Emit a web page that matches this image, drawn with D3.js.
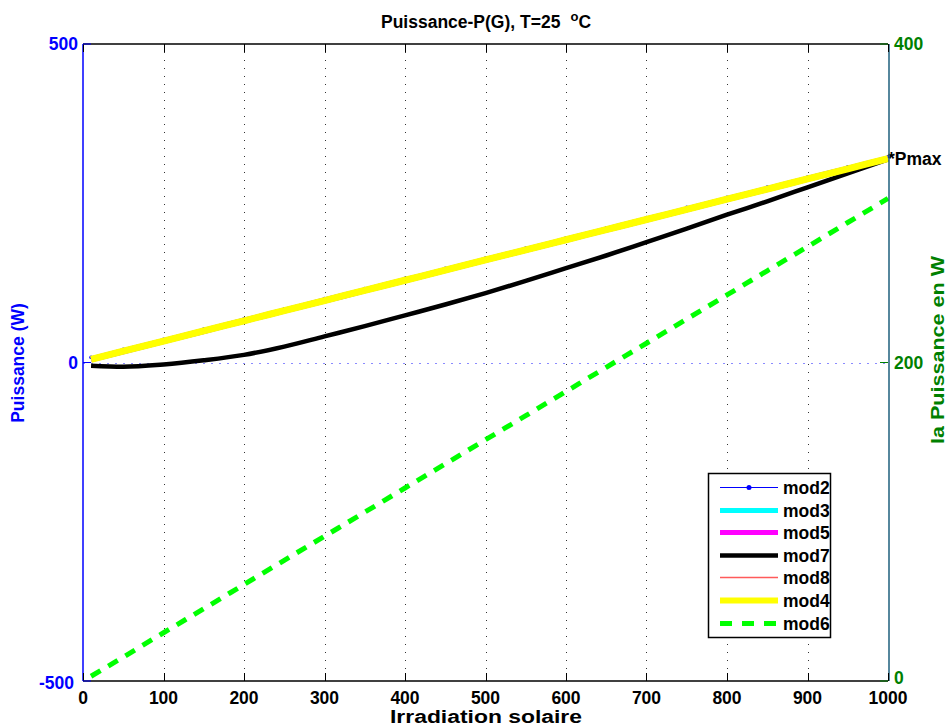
<!DOCTYPE html>
<html><head><meta charset="utf-8">
<script src="https://cdn.jsdelivr.net/npm/d3@7"></script>
<style>
html,body{margin:0;padding:0;background:#fff;}
svg text{font-family:"Liberation Sans",Arial,sans-serif;font-weight:bold;}
</style></head>
<body>
<svg id="c" width="949" height="727"></svg>
<script>
// ---- data ----
const irradiation = [10,50,100,150,200,250,300,350,400,450,500,550,600,650,700,750,800,850,900,950,1000];
const mod2 = [8,20.7,36.6,52.5,68.5,84.4,100.3,116.2,132.1,148,164,179.8,195.7,211.6,227.5,243.5,259.4,275.3,291.2,307.1,323];
const mod3 = [5,17.7,33.6,49.5,65.5,81.4,97.3,113.2,129.1,145,161,176.8,192.7,208.6,224.5,240.5,256.4,272.3,288.2,304.1,320];
const mod5 = [5,17.7,33.6,49.5,65.5,81.4,97.3,113.2,129.1,145,161,176.8,192.7,208.6,224.5,240.5,256.4,272.3,288.2,304.1,320];
const mod7 = [-5,-6.5,-3,3.5,12,25,41,57,74,91,109,128,148,168,189,210,232,253,275,297,319];
const mod8 = [5,17.7,33.6,49.5,65.5,81.4,97.3,113.2,129.1,145,161,176.8,192.7,208.6,224.5,240.5,256.4,272.3,288.2,304.1,320];
const mod4 = [5,17.7,33.6,49.5,65.5,81.4,97.3,113.2,129.1,145,161,176.8,192.7,208.6,224.5,240.5,256.4,272.3,288.2,304.1,320];
const mod6 = [3,15,30.3,45.4,60.6,75.8,90.9,106,121.2,136.3,151.5,166.6,181.8,197,212.1,227.3,242.4,257.6,272.7,287.9,303];
const pmax = {g:1000, p:321, label:"*Pmax"};
const xTicks = [0,100,200,300,400,500,600,700,800,900,1000];
const yLeftTicks = [-500,0,500];
const yRightTicks = [0,200,400];
const legendNames = ["mod2","mod3","mod5","mod7","mod8","mod4","mod6"];
const title = "Puissance-P(G), T=25";
const xLabel = "Irradiation solaire";
const yLeftLabel = "Puissance (W)";
const yRightLabel = "la Puissance en W";

// ---- layout ----
const L=83, R=888, T=44, B=681;
const svg = d3.select("#c");
const x = d3.scaleLinear().domain([0,1000]).range([L,R]);
const yL = d3.scaleLinear().domain([-500,500]).range([B,T]);
const yR = d3.scaleLinear().domain([0,400]).range([B,T]);

// grid
const grid = svg.append("g");
xTicks.slice(1,-1).forEach(t=>{
  grid.append("line").attr("x1",Math.round(x(t))+0.5).attr("x2",Math.round(x(t))+0.5).attr("y1",T).attr("y2",B)
    .attr("stroke","#333").attr("stroke-width",1).attr("stroke-dasharray","1,7");
});
grid.append("line").attr("x1",L).attr("x2",R).attr("y1",Math.round(yL(0))+0.5).attr("y2",Math.round(yL(0))+0.5)
  .attr("stroke","#8a8aff").attr("stroke-width",1.2).attr("stroke-dasharray","2,6");

// series
const series = [
  {name:"mod2", vals:mod2, color:"#0000ff", w:1, marker:true, axis:yL},
  {name:"mod3", vals:mod3, color:"#00ffff", w:6, axis:yL},
  {name:"mod5", vals:mod5, color:"#ff00ff", w:6, axis:yL},
  {name:"mod7", vals:mod7, color:"#000000", w:4.5, axis:yL},
  {name:"mod8", vals:mod8, color:"#ff5a5a", w:1.5, axis:yL},
  {name:"mod4", vals:mod4, color:"#ffff00", w:7, axis:yL},
  {name:"mod6", vals:mod6, color:"#00ff00", w:5, dash:"11,9", axis:yR}
];
const plot = svg.append("g");
series.forEach(s=>{
  const line = d3.line().x((d,i)=>x(irradiation[i])).y(d=>s.axis(d)).curve(d3.curveMonotoneX);
  plot.append("path").datum(s.vals).attr("d",line).attr("fill","none")
    .attr("stroke",s.color).attr("stroke-width",s.w)
    .attr("stroke-dasharray",s.dash||null);
  if(s.marker){
    plot.selectAll(null).data(s.vals).enter().append("circle")
      .attr("cx",(d,i)=>x(irradiation[i])).attr("cy",d=>s.axis(d)).attr("r",1.8).attr("fill",s.color);
  }
});

// Pmax
svg.append("text").attr("x",x(pmax.g)).attr("y",yL(pmax.p)).attr("dy","0.4em")
  .attr("font-size",17.5).attr("fill","#000").text(pmax.label);

// axes box
svg.append("line").attr("x1",L).attr("x2",R).attr("y1",T).attr("y2",T).attr("stroke","#000").attr("stroke-width",1.5);
svg.append("line").attr("x1",L).attr("x2",R).attr("y1",B).attr("y2",B).attr("stroke","#000").attr("stroke-width",1.5);
svg.append("line").attr("x1",L).attr("x2",L).attr("y1",T).attr("y2",B).attr("stroke","#0000ff").attr("stroke-width",1.5);
svg.append("line").attr("x1",R+1).attr("x2",R+1).attr("y1",T).attr("y2",B).attr("stroke","#1e5f7c").attr("stroke-width",1.5);

// x ticks
xTicks.forEach(t=>{
  const xx = Math.round(x(t))+0.5;
  svg.append("line").attr("x1",xx).attr("x2",xx).attr("y1",B).attr("y2",B-8).attr("stroke","#000");
  svg.append("line").attr("x1",xx).attr("x2",xx).attr("y1",T).attr("y2",T+8).attr("stroke","#000");
  svg.append("text").attr("x",x(t)).attr("y",B+17).attr("dy","0.35em").attr("text-anchor","middle")
    .attr("font-size",17.5).attr("fill","#000").text(t);
});
// left ticks
yLeftTicks.forEach(t=>{
  svg.append("line").attr("x1",L).attr("x2",L+8).attr("y1",yL(t)).attr("y2",yL(t)).attr("stroke","#0000ff");
  svg.append("text").attr("x",t<0?L-9:L-5).attr("y",yL(t)+(t<0?2:0)).attr("dy","0.35em").attr("text-anchor","end")
    .attr("font-size",17.5).attr("fill","#0000ff").text(t);
});
// right ticks
yRightTicks.forEach(t=>{
  svg.append("line").attr("x1",R).attr("x2",R-8).attr("y1",yR(t)).attr("y2",yR(t)).attr("stroke","#008000");
  svg.append("text").attr("x",R+6).attr("y",yR(t)-(t===0?3:0)).attr("dy","0.35em").attr("text-anchor","start")
    .attr("font-size",17.5).attr("fill","#008000").text(t);
});

// labels
const tt = svg.append("text").attr("x",486).attr("y",28).attr("text-anchor","middle").attr("font-size",17.5).attr("fill","#000");
tt.append("tspan").text(title);
tt.append("tspan").attr("dx",10).attr("dy",-7).attr("font-size",13).text("o");
tt.append("tspan").attr("dy",7).text("C");
svg.append("text").attr("x",486).attr("y",723).attr("text-anchor","middle").attr("font-size",18).attr("fill","#000")
  .attr("textLength",192).attr("lengthAdjust","spacingAndGlyphs").text(xLabel);
svg.append("text").attr("transform","translate(24,363) rotate(-90)").attr("text-anchor","middle")
  .attr("font-size",17.5).attr("fill","#0000ff").text(yLeftLabel);
svg.append("text").attr("transform","translate(944,350) rotate(-90)").attr("text-anchor","middle")
  .attr("font-size",18).attr("fill","#008000")
  .attr("textLength",188).attr("lengthAdjust","spacingAndGlyphs").text(yRightLabel);

// legend
const lg = svg.append("g");
lg.append("rect").attr("x",708.5).attr("y",473.5).attr("width",122).attr("height",164)
  .attr("fill","#fff").attr("stroke","#000").attr("stroke-width",1.5);
series.forEach((s,i)=>{
  const yy = Math.round(487 + i*22.6) + 0.5;
  lg.append("line").attr("x1",720).attr("x2",778).attr("y1",yy).attr("y2",yy)
    .attr("stroke",s.color).attr("stroke-width",s.w===7?6:s.w===6?5:s.w)
    .attr("stroke-dasharray",s.dash?"12,10":null);
  if(s.marker) lg.append("circle").attr("cx",749).attr("cy",yy).attr("r",2.5).attr("fill",s.color);
  lg.append("text").attr("x",783).attr("y",yy).attr("dy","0.35em").attr("font-size",17.5).attr("fill","#000").text(legendNames[i]);
});
</script>
</body></html>
